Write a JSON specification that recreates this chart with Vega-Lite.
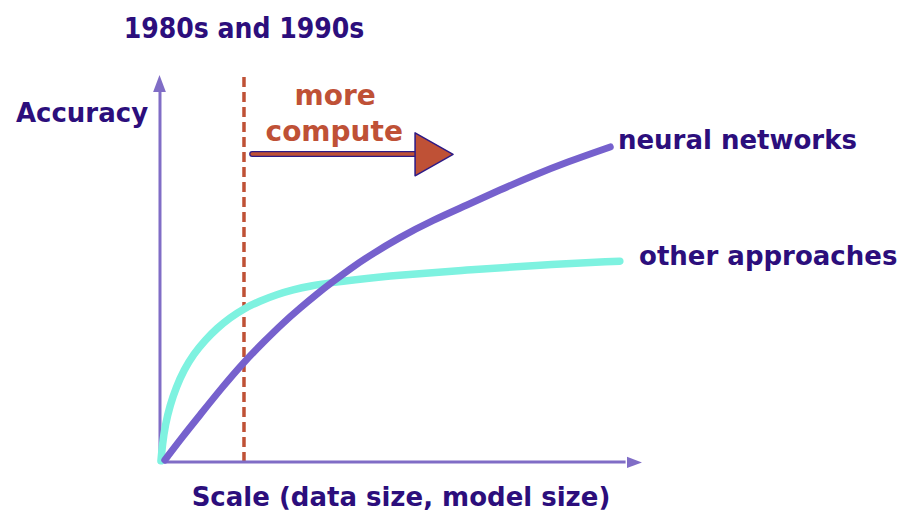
{
  "$schema": "https://vega.github.io/schema/vega-lite/v6.json",
  "width": 905,
  "height": 521,
  "autosize": {"type": "fit", "contains": "padding"},
  "padding": 0,
  "background": "white",
  "config": {"view": {"stroke": null}},
  "datasets": {
    "neural": [
      {"x": 1.0, "y": 0.5}, {"x": 4.8, "y": 6.7}, {"x": 8.3, "y": 12.1}, {"x": 12.9, "y": 19.2},
      {"x": 17.3, "y": 25.6}, {"x": 21.9, "y": 31.4}, {"x": 25.6, "y": 35.9}, {"x": 29.2, "y": 39.8},
      {"x": 32.7, "y": 43.4}, {"x": 36.0, "y": 46.6}, {"x": 39.6, "y": 49.9}, {"x": 43.1, "y": 52.9},
      {"x": 50.0, "y": 58.1}, {"x": 56.9, "y": 62.5}, {"x": 64.0, "y": 66.4}, {"x": 70.8, "y": 70.3},
      {"x": 77.7, "y": 74.0}, {"x": 84.8, "y": 77.5}, {"x": 93.8, "y": 81.4}
    ],
    "other": [
      {"x": 0.2, "y": 0.3}, {"x": 0.5, "y": 4.4}, {"x": 1.1, "y": 9.6}, {"x": 2.1, "y": 14.7},
      {"x": 3.4, "y": 19.4}, {"x": 5.0, "y": 23.8}, {"x": 7.0, "y": 27.9}, {"x": 9.4, "y": 31.5},
      {"x": 11.9, "y": 34.6}, {"x": 14.6, "y": 37.3}, {"x": 17.3, "y": 39.5}, {"x": 20.8, "y": 41.6},
      {"x": 24.4, "y": 43.3}, {"x": 27.7, "y": 44.5}, {"x": 31.3, "y": 45.5}, {"x": 36.0, "y": 46.4},
      {"x": 39.6, "y": 47.0}, {"x": 50.0, "y": 48.3}, {"x": 64.0, "y": 49.6}, {"x": 77.7, "y": 50.8},
      {"x": 95.8, "y": 51.9}
    ],
    "marker": [{"x": 17.5, "y": 0, "y2": 100.5}],
    "yaxis": [{"x": 0, "y": 0, "y2": 96}],
    "xaxis": [{"x": -0.3, "x2": 97, "y": 0}],
    "yarrow": [{"x": -0.1, "y": 97.8}],
    "xarrow": [{"x": 98.85, "y": -0.13}],
    "shaft": [{"x": 19.2, "x2": 54.2, "y": 79.6}],
    "head": [{"x": 57.1, "y": 79.5}],
    "title": [{"label": "1980s and 1990s", "x": 17.5, "y": 109.6}],
    "axisTitles": [
      {"label": "Accuracy", "x": -16.25, "y": 87.9},
      {"label": "Scale (data size, model size)", "x": 50.2, "y": -11.4}
    ],
    "seriesLabels": [
      {"label": "neural networks", "x": 95.4, "y": 80.9},
      {"label": "other approaches", "x": 99.8, "y": 50.9}
    ],
    "compute": [
      {"label": "more", "x": 36.5, "y": 92.25},
      {"label": "compute", "x": 36.3, "y": 82.95}
    ]
  },
  "encoding": {
    "x": {"field": "x", "type": "quantitative", "scale": {"domain": [-33.33, 155.21], "nice": false, "zero": false}, "axis": null},
    "y": {"field": "y", "type": "quantitative", "scale": {"domain": [-15.25, 119.38], "nice": false, "zero": false}, "axis": null}
  },
  "layer": [
    {
      "data": {"name": "marker"},
      "mark": {"type": "rule", "color": "#bf5136", "strokeWidth": 3.5, "strokeDash": [10, 5]},
      "encoding": {"y2": {"field": "y2"}}
    },
    {
      "data": {"name": "yaxis"},
      "mark": {"type": "rule", "color": "#806dc6", "strokeWidth": 3},
      "encoding": {"y2": {"field": "y2"}}
    },
    {
      "data": {"name": "xaxis"},
      "mark": {"type": "rule", "color": "#806dc6", "strokeWidth": 3},
      "encoding": {"x2": {"field": "x2"}}
    },
    {
      "data": {"name": "yarrow"},
      "mark": {"type": "point", "shape": "M0,-1L0.75,1L-0.75,1Z", "size": 289, "filled": true, "color": "#806dc6", "opacity": 1},
      "encoding": {}
    },
    {
      "data": {"name": "xarrow"},
      "mark": {"type": "point", "shape": "M1,0L-1,-0.75L-1,0.75Z", "size": 225, "filled": true, "color": "#806dc6", "opacity": 1},
      "encoding": {}
    },
    {
      "data": {"name": "other"},
      "mark": {"type": "line", "color": "#7ef2e0", "strokeWidth": 7.5, "strokeCap": "round", "interpolate": "basis"},
      "encoding": {}
    },
    {
      "data": {"name": "neural"},
      "mark": {"type": "line", "color": "#7661cd", "strokeWidth": 7, "strokeCap": "round", "interpolate": "basis"},
      "encoding": {}
    },
    {
      "data": {"name": "shaft"},
      "mark": {"type": "rule", "color": "#2d1a86", "strokeWidth": 6, "strokeCap": "round"},
      "encoding": {"x2": {"field": "x2"}}
    },
    {
      "data": {"name": "shaft"},
      "mark": {"type": "rule", "color": "#bf5136", "strokeWidth": 3.5, "strokeCap": "round"},
      "encoding": {"x2": {"field": "x2"}}
    },
    {
      "data": {"name": "head"},
      "mark": {"type": "point", "shape": "M1,0L-1,-1.13L-1,1.13Z", "size": 1444, "filled": true, "fill": "#bf5136", "stroke": "#2d1a86", "strokeWidth": 1.5, "opacity": 1, "fillOpacity": 1, "strokeJoin": "round"},
      "encoding": {}
    },
    {
      "data": {"name": "title"},
      "mark": {"type": "text", "font": "DejaVu Sans Condensed", "fontWeight": "bold", "fontSize": 28, "color": "#2c0e7c", "align": "center", "baseline": "alphabetic"},
      "encoding": {"text": {"field": "label"}}
    },
    {
      "data": {"name": "axisTitles"},
      "mark": {"type": "text", "font": "DejaVu Sans", "fontWeight": "bold", "fontSize": 26, "color": "#2c0e7c", "align": "center", "baseline": "alphabetic"},
      "encoding": {"text": {"field": "label"}}
    },
    {
      "data": {"name": "seriesLabels"},
      "mark": {"type": "text", "font": "DejaVu Sans", "fontWeight": "bold", "fontSize": 26, "color": "#2c0e7c", "align": "left", "baseline": "alphabetic"},
      "encoding": {"text": {"field": "label"}}
    },
    {
      "data": {"name": "compute"},
      "mark": {"type": "text", "font": "DejaVu Sans", "fontWeight": "bold", "fontSize": 28, "color": "#bf5136", "align": "center", "baseline": "alphabetic"},
      "encoding": {"text": {"field": "label"}}
    }
  ]
}
